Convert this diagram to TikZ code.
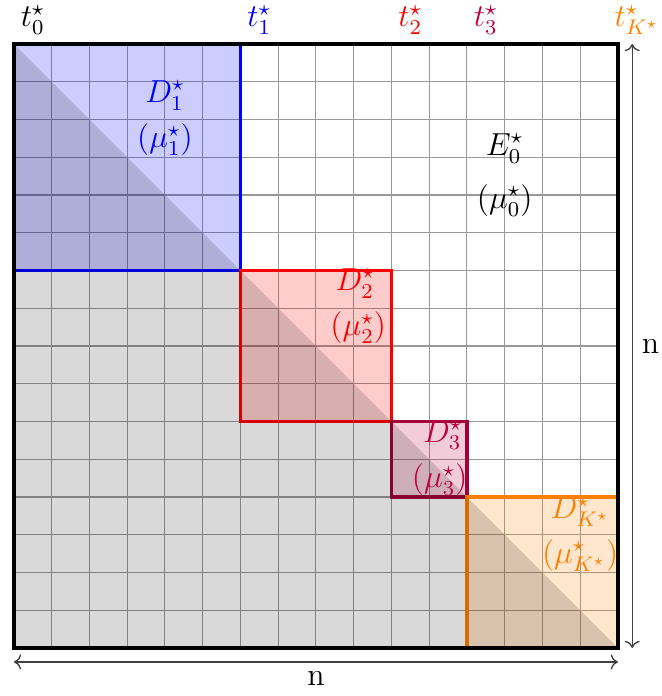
\documentclass[tikz,border=0pt]{standalone}
\usepackage{amsmath}
\usetikzlibrary{arrows.meta,positioning,calc}
\tikzset{
    cell/.style       = {draw=gray!80, line width=0.4pt},
    matframe/.style   = {draw=black, line width=1.6pt},
    lowertri/.style   = {fill=black, fill opacity=0.15},
    blockfill/.style  = {fill=#1, fill opacity=0.2},
    blockline/.style  = {draw=#1, line width=1.4pt},
    cutlabel/.style   = {above, xshift=0.25cm, font=\large},
    blocklabel/.style = {font=\large, text=#1, inner sep=1pt},
    dimline/.style    = {<->, draw=black!75, line width=0.5pt}
}

\begin{document}
\begin{tikzpicture}
    \def\side{8}
    \def\cellw{0.5}
    \useasboundingbox (-0.185,-0.636) rectangle (8.583,8.583);
    \draw[cell, step=\cellw] (0,0) grid (\side,\side);
    % diagonal blocks
    \fill[blockfill=blue]   (0,8) rectangle (3,5);
    \fill[blockfill=red]    (3,5) rectangle (5,3);
    \fill[blockfill=purple] (5,3) rectangle (6,2);
    \fill[blockfill=orange] (6,2) rectangle (8,0);
    \draw[blockline=blue]   (0,8) rectangle (3,5);
    \draw[blockline=red]    (3,5) rectangle (5,3);
    \draw[blockline=purple!85!black] (5,3) rectangle (6,2);
    \draw[blockline=orange] (6,2) rectangle (8,0);
    % lower part of the matrix
    \fill[lowertri] (0,\side) -- (\side,0) -- (0,0) -- cycle;
    \draw[matframe] (0,0) rectangle (\side,\side);
    % change points
    \foreach \x/\c/\lab/\nm in {0/black/0/0, 3/blue/1/1, 5/red/2/2, 6/purple/3/3, 8/orange/{K^\star}/K}
        \node[cutlabel, text=\c] (t\nm) at (\x,\side) {$t^\star_{\lab}$};
    % block labels
    \node[blocklabel=blue]   (d1)  at (2.0,7.32)  {$D^\star_1$};
    \node[blocklabel=blue]   (mu1) at (2.0,6.73)  {$(\mu^\star_1)$};
    \node[blocklabel=red]    (d2)  at (4.52,4.83) {$D^\star_2$};
    \node[blocklabel=red]    (mu2) at (4.56,4.24) {$(\mu^\star_2)$};
    \node[blocklabel=purple] (d3)  at (5.68,2.82) {$D^\star_3$};
    \node[blocklabel=purple] (mu3) at (5.64,2.23) {$(\mu^\star_3)$};
    \node[blocklabel=orange] (dk)  at (7.5,1.8)   {$D^\star_{K^\star}$};
    \node[blocklabel=orange] (muk) at (7.5,1.23)  {$(\mu^\star_{K^\star})$};
    \node[blocklabel=black]  (e0)  at (6.5,6.62)  {$E^\star_0$};
    \node[blocklabel=black]  (mu0) at (6.5,5.93)  {$(\mu^\star_0)$};
    % size of the matrix
    \coordinate (rtop) at (8.19,\side);
    \coordinate (rbot) at (8.19,0);
    \coordinate (bleft) at (0,-0.185);
    \coordinate (bright) at (\side,-0.185);
    \draw[dimline] (rtop) -- node[right, font=\large] (nrows) {n} (rbot);
    \draw[dimline] (bleft) -- node[below, font=\large] (ncols) {n} (bright);
\end{tikzpicture}
\end{document}
